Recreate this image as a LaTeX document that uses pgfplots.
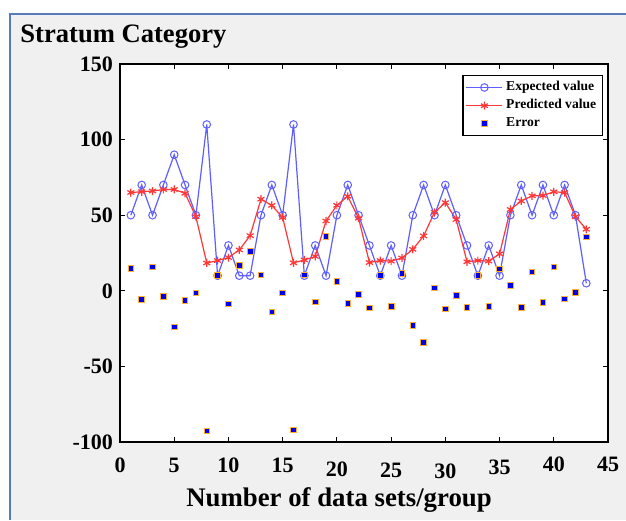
\documentclass[border=0pt]{standalone}
\usepackage{pgfplots}
\usepackage{pgfplotstable}
\pgfplotsset{compat=1.18}
\usepackage{fontspec}
\setmainfont{Liberation Serif}
\definecolor{bgpanel}{RGB}{240,240,240}
\definecolor{frameblue}{RGB}{86,122,190}
\definecolor{expblue}{RGB}{95,95,255}
\definecolor{predred}{RGB}{255,55,55}
\definecolor{errblue}{RGB}{0,0,235}
\definecolor{errorange}{RGB}{255,175,50}
\pgfplotstableread{
x E P Err
1 50 65 15
2 70 65.5 -5.5
3 50 66 15.7
4 70 67 -3.8
5 90 67 -24
6 70 64.5 -6.2
7 50 49 -1.5
8 110 18.4 -92.6
9 10 20 10
10 30 22 -8.6
11 10 27 16.8
12 10 36.5 26
13 50 60.6 10.4
14 70 56.5 -14
15 50 48.5 -1.5
16 110 18.5 -92
17 10 20.4 10.4
18 30 22.7 -7.3
19 10 46.2 36
20 50 56.5 6.4
21 70 62.5 -8.4
22 50 48 -2.2
23 30 18.7 -11.3
24 10 20 10
25 30 19.6 -10.4
26 10 21.7 11.7
27 50 27.4 -22.8
28 70 36.3 -34.3
29 50 51.9 1.8
30 70 58.3 -12
31 50 47.1 -2.9
32 30 19.2 -10.8
33 10 20 10
34 30 19.6 -10.4
35 10 24.4 14.4
36 50 53.8 3.5
37 70 59.4 -10.8
38 50 62.8 12.6
39 70 63 -7.5
40 50 65.5 15.7
41 70 65 -5.3
42 50 49 -1.1
43 5 40.7 35.6
}\datatable
\begin{document}
\begin{tikzpicture}
\path[use as bounding box] (0,0) rectangle (313pt,260pt);
\fill[white] (0,0) rectangle (313pt,260pt);
\fill[bgpanel] (5pt,0) rectangle (313pt,253pt);
\draw[frameblue, line width=1pt] (5pt,0) -- (5pt,253pt) -- (313pt,253pt);
\begin{axis}[
  at={(60pt,39pt)}, anchor=south west,
  scale only axis, width=244pt, height=189pt,
  xmin=0, xmax=45, ymin=-100, ymax=150,
  xtick={0,5,...,45}, ytick={-100,-50,0,50,100,150},
  xticklabels={0,5,10,15,\raisebox{-2.2pt}[\height]{20},\raisebox{-2.5pt}[\height]{25},\raisebox{-2.8pt}[\height]{30},\raisebox{-1.2pt}[\height]{35},\raisebox{0.5pt}[\height]{40},\raisebox{0.5pt}[\height]{45}},
  tick align=inside, major tick length=2.6pt,
  tick style={black, line width=0.6pt},
  axis line style={black, line width=0.7pt},
  axis background/.style={fill=white},
  /pgf/number format/assume math mode=true,
  ticklabel style={font=\fontsize{11}{12}\selectfont\bfseries},
  xticklabel style={yshift=-4.4pt},
  every axis title shift=0pt,
  title={Stratum Category},
  title style={at={(axis description cs:-0.2049,1)}, anchor=base west, yshift=10.5pt, inner sep=0pt, font=\fontsize{13.3}{16}\selectfont\bfseries},
  xlabel={Number of data sets/group},
  xlabel style={at={(axis description cs:0.4488,0)}, anchor=base, yshift=-32.35pt, inner sep=0pt, font=\fontsize{13.4}{16}\selectfont\bfseries},
  legend image code/.code={\draw[mark repeat=2,mark phase=2,#1] plot coordinates {(0pt,0pt) (9pt,0pt) (18pt,0pt)};},
  legend style={at={(0.99,0.971)}, anchor=north east, draw=black, line width=0.7pt, fill=white,
    font=\fontsize{6.8}{8}\selectfont\bfseries, inner xsep=1.5pt, inner ysep=1.2pt, row sep=-0.3pt,
    nodes={inner sep=1.6pt}},
  legend cell align=left,
]
\addplot[color=expblue, line width=0.6pt, mark=o, mark size=1.9pt, mark options={line width=0.5pt, fill=none}] table[x=x, y=E] {\datatable};
\addlegendentry{Expected value}
\addplot[color=predred, line width=0.6pt, mark=asterisk, mark size=2pt, mark options={line width=0.6pt}] table[x=x, y=P] {\datatable};
\addlegendentry{Predicted value}
\addplot[only marks, mark=square*, mark size=1.4pt, mark options={draw=errorange, fill=errblue, line width=0.4pt}] table[x=x, y=Err] {\datatable};
\addlegendentry{Error}
\end{axis}
\end{tikzpicture}
\end{document}
